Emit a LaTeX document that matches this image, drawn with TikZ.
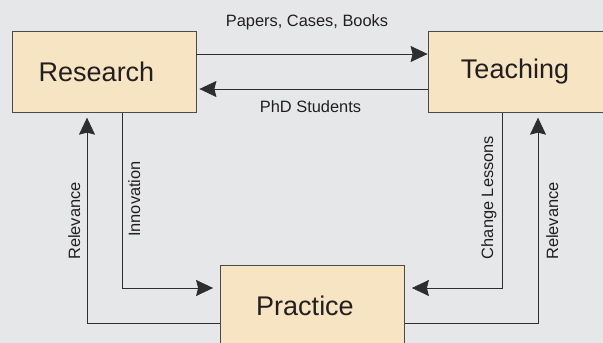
\documentclass[tikz,border=0pt]{standalone}
\usepackage{fontspec}
\setmainfont{Liberation Sans}
\usetikzlibrary{arrows.meta}
\definecolor{bg}{HTML}{E6E7E9}
\definecolor{boxfill}{HTML}{F7E4C3}
\definecolor{boxline}{HTML}{4A4A4A}
\definecolor{ink}{HTML}{231F20}
\definecolor{wire}{HTML}{2E2E2E}
\tikzset{
  bigbox/.style={draw=boxline, fill=boxfill, line width=0.8pt, minimum width=184pt, minimum height=81pt, inner sep=0pt, text=ink, font=\fontsize{27}{30}\selectfont},
  lbl/.style={text=ink, inner sep=0pt, anchor=base, font=\fontsize{16.4}{19}\selectfont},
  vlbl/.style={lbl, rotate=90},
  arr/.style={draw=wire, line width=0.9pt, -{Stealth[length=17pt,width=16pt,inset=2pt]}},
}
\begin{document}
\begin{tikzpicture}[x=1pt,y=-1pt]
\useasboundingbox (0,0) rectangle (603,343);
\clip (0,0) rectangle (603,343);
\fill[bg] (0,0) rectangle (603,343);
\node[bigbox] (R) at (104,71.75) {Research\hspace*{15pt}};
\node[bigbox] (T) at (520,71.75) {Teaching\hspace*{10pt}};
\node[bigbox] (P) at (312.5,305.5) {Practice\hspace*{15pt}};
\draw[arr] ([yshift=17.75pt]R.east) -- ([yshift=17.75pt]R.east -| T.west);
\draw[arr, shorten >=3pt] ([yshift=-17.25pt]T.west) -- ([yshift=-17.25pt]T.west -| R.east);
\draw[arr, shorten >=7pt] ([xshift=18pt]R.south) |- ([yshift=17.5pt]P.west);
\draw[arr, shorten >=5pt] ([yshift=-17.5pt]P.west) -| ([xshift=-17pt]R.south);
\draw[arr, shorten >=7pt] ([xshift=-18pt]T.south) |- ([yshift=17.5pt]P.east);
\draw[arr, shorten >=5pt] ([yshift=-17.5pt]P.east) -| ([xshift=18pt]T.south);
\node[lbl] (l1) at (307,26) {Papers, Cases, Books};
\node[lbl] (l2) at (310.5,112.5) {PhD Students};
\node[vlbl] (l3) at (80,221) {Relevance};
\node[vlbl] (l4) at (140,199) {Innovation};
\node[vlbl] (l5) at (493,197.5) {Change Lessons};
\node[vlbl] (l6) at (558,221) {Relevance};
\end{tikzpicture}
\end{document}
